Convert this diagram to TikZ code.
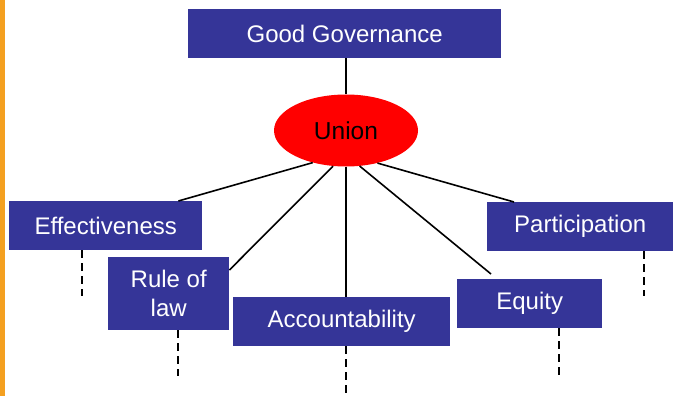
\documentclass[tikz,border=0pt]{standalone}
\usepackage{fontspec}
\setmainfont{Liberation Sans}
\usetikzlibrary{shapes.geometric}
\definecolor{boxblue}{RGB}{53,53,152}
\definecolor{barorange}{RGB}{244,160,32}
\begin{document}
\begin{tikzpicture}[x=1pt,y=-1pt,
  box/.style={rectangle, fill=boxblue, text=white, anchor=north west, inner sep=0pt,
    align=center, font=\fontsize{24}{29}\selectfont},
  link/.style={line width=1.6pt, black},
  dashlink/.style={line width=1.6pt, black, dash pattern=on 8pt off 5pt}]
\useasboundingbox (0,0) rectangle (673,396);
\fill[white] (0,0) rectangle (673,396);
\fill[barorange] (0,0) rectangle (5,396);

\node[box, minimum width=313pt, minimum height=49pt] (gg) at (188,9) {Good Governance};
\node[ellipse, fill=red, minimum width=144pt, minimum height=72pt, inner sep=0pt,
  font=\fontsize{24.5}{29}\selectfont] (u) at (346,130.5) {Union};

\node[box, minimum width=193pt, minimum height=49pt] (eff) at (9,201) {Effectiveness};
\node[box, minimum width=121pt, minimum height=73pt] (rol) at (108,257) {Rule of\\law};
\node[box, minimum width=217pt, minimum height=49pt] (acc) at (233,297) {Accountability};
\node[box, minimum width=145pt, minimum height=49pt] (eq) at (457,279) {Equity};
\node[box, minimum width=186pt, minimum height=49pt] (par) at (487,202) {Participation};

\coordinate (effin) at ([xshift=-24pt]eff.north east);
\coordinate (rolin) at ([yshift=-13pt]rol.north east);
\coordinate (eqin) at ([xshift=34pt,yshift=5pt]eq.north west);
\coordinate (parin) at ([xshift=27pt]par.north west);

\draw[link] (gg.south -| u.north) -- (u.north);
\draw[link] (u.224) -- (effin);
\draw[link] (u.250) -- (rolin);
\draw[link] (u.south) -- (acc.north -| u.south);
\draw[link] (u.291) -- (eqin);
\draw[link] (u.314) -- (parin);

\coordinate (effd) at (82,296);
\coordinate (rold) at (178,376);
\coordinate (accd) at (346,396);
\coordinate (eqd) at (559,376);
\coordinate (pard) at (644,296);
\draw[dashlink] (eff.south -| effd) -- (effd);
\draw[dashlink] (rol.south -| rold) -- (rold);
\draw[dashlink] (acc.south -| accd) -- (accd);
\draw[dashlink] (eq.south -| eqd) -- (eqd);
\draw[dashlink] (par.south -| pard) -- (pard);
\end{tikzpicture}
\end{document}
